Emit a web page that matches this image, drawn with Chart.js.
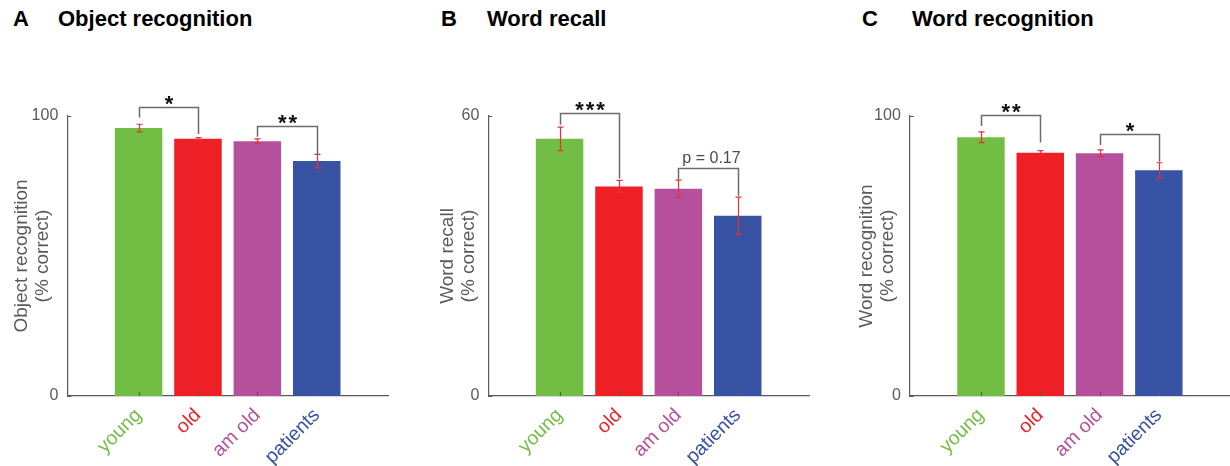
<!DOCTYPE html>
<html>
<head>
<meta charset="utf-8">
<script src="https://cdn.jsdelivr.net/npm/chart.js@4.4.1/dist/chart.umd.min.js"></script>
<style>
  html, body { margin: 0; padding: 0; background: #fff; }
  body { width: 1230px; height: 466px; position: relative; overflow: hidden;
         font-family: "Liberation Sans", Arial, sans-serif; }
  .panel { position: absolute; top: 0; }
  .letter, .title { position: absolute; top: 6px; font-weight: bold; font-size: 22px; color: #000; white-space: nowrap; }
</style>
</head>
<body>
<div class="letter" style="left:13px">A</div>
<div class="title" style="left:58px">Object recognition</div>
<div class="letter" style="left:441px">B</div>
<div class="title" style="left:487px">Word recall</div>
<div class="letter" style="left:862px">C</div>
<div class="title" style="left:912px">Word recognition</div>

<canvas id="chartA" class="panel" style="left:0px" width="400" height="466"></canvas>
<canvas id="chartB" class="panel" style="left:421px" width="400" height="466"></canvas>
<canvas id="chartC" class="panel" style="left:842px" width="388" height="466"></canvas>

<script>
// Groups and their colours
const categories = ['young', 'old', 'am old', 'patients'];
const groupColors = ['#72BE45', '#EE1F25', '#B6509C', '#3953A4'];

// Object recognition (% correct): mean and s.e.m.
const objectRecog    = [95.7, 91.9, 91.0, 83.9];
const objectRecogErr = [1.35, 0.4, 0.8, 2.4];
const objectRecogMax = 100;

// Word recall (% correct)
const wordRecall    = [55.1, 44.9, 44.4, 38.6];
const wordRecallErr = [2.5, 1.3, 1.85, 4.0];
const wordRecallMax = 60;

// Word recognition (% correct)
const wordRecog    = [92.4, 86.9, 86.7, 80.6];
const wordRecogErr = [1.9, 0.7, 1.2, 2.7];
const wordRecogMax = 100;

// Pairwise comparisons: groups joined, bracket bar level and leg ends (data units), label
const objectRecogTests = [
  { a: 0, b: 1, top: 103.3, endA: 99.5, endB: 93.6, label: '*' },
  { a: 2, b: 3, top: 96.4,  endA: 92.6, endB: 86.1, label: '**' }
];
const wordRecallTests = [
  { a: 0, b: 1, top: 60.6, endA: 58.1, endB: 46.6, label: '***' },
  { a: 2, b: 3, top: 48.9, endA: 46.4, endB: 42.9, label: 'p = 0.17' }
];
const wordRecogTests = [
  { a: 0, b: 1, top: 100.4, endA: 96.4, endB: 90.5, label: '**' },
  { a: 2, b: 3, top: 93.7,  endA: 89.6, endB: 83.7, label: '*' }
];

const FONT = '"Liberation Sans", Arial, sans-serif';
const AXIS_GREY = '#5a5a5a';

// Error bars, inward tick marks and significance brackets
const decorations = {
  id: 'decorations',
  afterDatasetsDraw(chart, args, opts) {
    const ctx = chart.ctx;
    const xs = chart.scales.x, ys = chart.scales.y;
    const area = chart.chartArea;
    ctx.save();

    // inward ticks
    ctx.strokeStyle = AXIS_GREY;
    ctx.lineWidth = 1.2;
    ctx.beginPath();
    xs.ticks.forEach(t => {
      const px = Math.round(xs.getPixelForValue(t.value)) + 0.5;
      ctx.moveTo(px, area.bottom);
      ctx.lineTo(px, area.bottom - 4);
    });
    ys.ticks.forEach(t => {
      const py = Math.round(ys.getPixelForValue(t.value)) + 0.5;
      ctx.moveTo(area.left, py);
      ctx.lineTo(area.left + 4, py);
    });
    ctx.stroke();

    // error bars
    const vals = chart.data.datasets[0].data;
    ctx.strokeStyle = '#E5312F';
    ctx.lineWidth = 1.2;
    opts.errors.forEach((e, i) => {
      const px = Math.round(xs.getPixelForValue(vals[i].x)) + 0.5;
      const yHi = ys.getPixelForValue(vals[i].y + e);
      const yLo = ys.getPixelForValue(vals[i].y - e);
      ctx.beginPath();
      ctx.moveTo(px, yHi); ctx.lineTo(px, yLo);
      ctx.moveTo(px - 3, yHi); ctx.lineTo(px + 3, yHi);
      ctx.moveTo(px - 3, yLo); ctx.lineTo(px + 3, yLo);
      ctx.stroke();
    });

    // brackets
    opts.tests.forEach(t => {
      const xa = Math.round(xs.getPixelForValue(t.a)) + 0.5;
      const xb = Math.round(xs.getPixelForValue(t.b)) + 0.5;
      const yt = Math.round(ys.getPixelForValue(t.top)) + 0.5;
      ctx.strokeStyle = '#6b6b6b';
      ctx.lineWidth = 1.5;
      ctx.beginPath();
      ctx.moveTo(xa, ys.getPixelForValue(t.endA));
      ctx.lineTo(xa, yt);
      ctx.lineTo(xb, yt);
      ctx.lineTo(xb, ys.getPixelForValue(t.endB));
      ctx.stroke();
      ctx.textAlign = 'center';
      if (/^\*+$/.test(t.label)) {
        ctx.fillStyle = '#111';
        ctx.font = 'bold 22px ' + FONT;
        ctx.textBaseline = 'alphabetic';
        const w = ctx.measureText('*').width + 2;
        const n = t.label.length;
        const cx = (xa + xb) / 2;
        for (let k = 0; k < n; k++) {
          ctx.fillText('*', cx + (k - (n - 1) / 2) * w, yt + 3);
        }
      } else {
        ctx.fillStyle = '#4a4a4a';
        ctx.font = '16px ' + FONT;
        ctx.textBaseline = 'alphabetic';
        ctx.fillText(t.label, (xa + xb) / 2 + 3, yt - 6);
      }
    });
    ctx.restore();
  }
};

function makePanel(id, values, errors, yMax, titleLines, tests, yWidth, rightPad, titlePad) {
  const points = values.map((v, i) => ({ x: i, y: v }));
  return new Chart(document.getElementById(id), {
    type: 'bar',
    data: {
      datasets: [{
        data: points,
        backgroundColor: groupColors,
        borderWidth: 0,
        categoryPercentage: 0.8,
        barPercentage: 1.0
      }]
    },
    options: {
      responsive: false,
      animation: false,
      events: [],
      layout: { padding: { top: 116, right: rightPad, left: 0, bottom: 0 } },
      plugins: {
        legend: { display: false },
        tooltip: { enabled: false },
        decorations: { errors: errors, tests: tests }
      },
      scales: {
        x: {
          type: 'linear',
          min: -1.2,
          max: 4.2,
          offset: false,
          grid: { display: false, drawTicks: false },
          border: { display: true, color: AXIS_GREY, width: 1.2 },
          afterBuildTicks: s => { s.ticks = categories.map((c, i) => ({ value: i })); },
          afterFit: s => { s.height = 70; },
          ticks: {
            autoSkip: false,
            minRotation: 45,
            maxRotation: 45,
            padding: 8,
            font: { family: FONT, size: 19.5 },
            color: c => groupColors[c.index],
            callback: v => categories[v]
          }
        },
        y: {
          min: 0,
          max: yMax,
          grid: { display: false, drawTicks: false },
          border: { display: true, color: AXIS_GREY, width: 1.2 },
          afterBuildTicks: s => { s.ticks = [{ value: 0 }, { value: yMax }]; },
          afterFit: s => { s.width = yWidth; },
          ticks: {
            padding: 9,
            font: { family: FONT, size: 16 },
            color: AXIS_GREY
          },
          title: {
            display: true,
            text: titleLines,
            color: AXIS_GREY,
            font: { family: FONT, size: 19, lineHeight: 1.12 },
            padding: { top: titlePad, bottom: 0 }
          }
        }
      }
    },
    plugins: [decorations]
  });
}

makePanel('chartA', objectRecog, objectRecogErr, objectRecogMax,
  ['Object recognition', '(% correct)'], objectRecogTests, 67.3, 12, 11);
makePanel('chartB', wordRecall, wordRecallErr, wordRecallMax,
  ['Word recall', '(% correct)'], wordRecallTests, 67.3, 12, 16);
makePanel('chartC', wordRecog, wordRecogErr, wordRecogMax,
  ['Word recognition', '(% correct)'], wordRecogTests, 67.8, 0, 14);
</script>
</body>
</html>
